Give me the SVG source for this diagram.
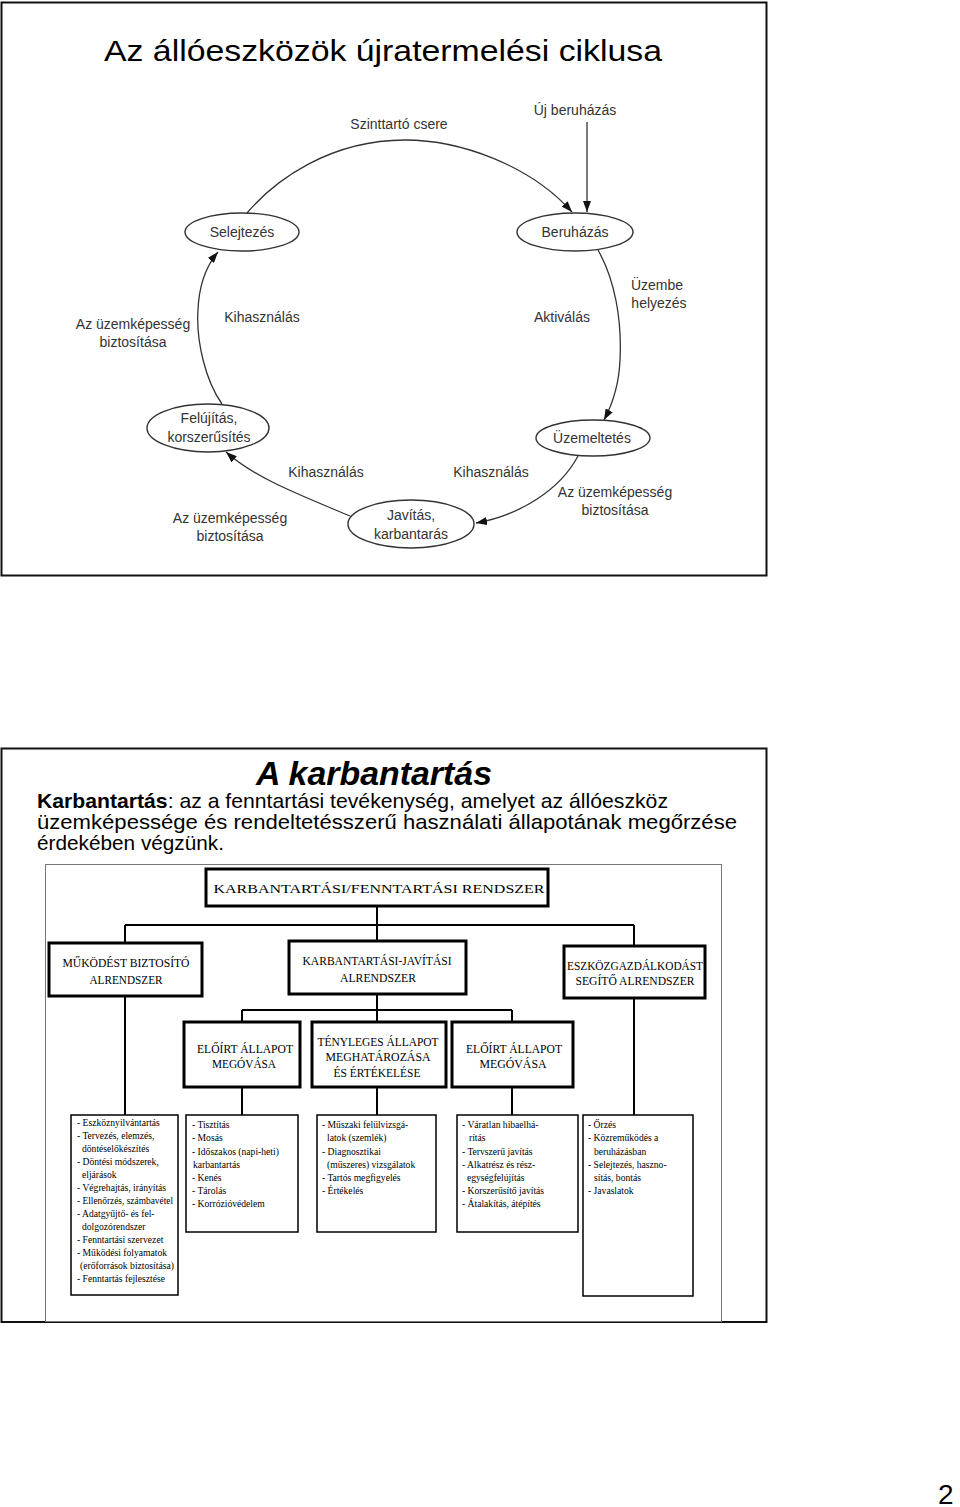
<svg xmlns="http://www.w3.org/2000/svg" width="960" height="1507" viewBox="0 0 960 1507">
<style>
.frame{fill:none;stroke:#111;stroke-width:2}
.lbl{font-family:"Liberation Sans",Arial,sans-serif;font-size:14px;fill:#333;text-anchor:middle}
.ell{fill:#fff;stroke:#333;stroke-width:1.4}
.arc{fill:none;stroke:#333;stroke-width:1.3}
.box{fill:#fff;stroke:#000;stroke-width:3}
.box4{fill:#fff;stroke:#000;stroke-width:1.5}
.cap{font-family:"Liberation Serif","Times New Roman",serif;font-size:13px;fill:#000;text-anchor:middle}
.lst{font-family:"Liberation Serif","Times New Roman",serif;font-size:9.6px;fill:#000}
.wire{fill:none;stroke:#000;stroke-width:2}
.body{font-family:"Liberation Sans",Arial,sans-serif;font-size:21px;fill:#000}
</style>
<defs>
<marker id="ah" markerUnits="userSpaceOnUse" markerWidth="11" markerHeight="8" refX="11" refY="4" orient="auto">
<path d="M0,0 L11,4 L0,8 z" fill="#111"/>
</marker>
</defs>
<rect width="960" height="1507" fill="#fff"/>

<!-- Slide 1 -->
<rect class="frame" x="1.5" y="2.5" width="765" height="573"/>
<text x="104" y="61" font-family="'Liberation Sans',Arial,sans-serif" font-size="30" fill="#000" textLength="558" lengthAdjust="spacingAndGlyphs">Az állóeszközök újratermelési ciklusa</text>

<g id="cycle-connectors">
<path class="arc" d="M247,213 C275,180 330,140 405,140 C460,140 530,165 572,212" marker-end="url(#ah)"/>
<path class="arc" d="M587,122 V212" marker-end="url(#ah)"/>
<path class="arc" d="M598,250 C615,280 622,320 620,360 C619,385 612,405 604,420" marker-end="url(#ah)"/>
<path class="arc" d="M578,456 C560,490 520,515 476,523" marker-end="url(#ah)"/>
<path class="arc" d="M350,516 C300,495 255,478 226,452" marker-end="url(#ah)"/>
<path class="arc" d="M222,404 C205,380 196,340 198,310 C199,285 207,265 218,252" marker-end="url(#ah)"/>
</g>

<g id="n-selejtezes"><ellipse class="ell" cx="242" cy="232" rx="57" ry="19"/><text class="lbl" x="242" y="237">Selejtezés</text></g>
<g id="n-beruhazas"><ellipse class="ell" cx="575" cy="232" rx="58" ry="19"/><text class="lbl" x="575" y="237">Beruházás</text></g>
<g id="n-felujitas"><ellipse class="ell" cx="208" cy="428" rx="61" ry="24"/><text class="lbl" x="209" y="423">Felújítás,</text><text class="lbl" x="209" y="442">korszerűsítés</text></g>
<g id="n-uzemeltetes"><ellipse class="ell" cx="593" cy="438" rx="57" ry="18"/><text class="lbl" x="592" y="443">Üzemeltetés</text></g>
<g id="n-javitas"><ellipse class="ell" cx="411" cy="524" rx="63" ry="24"/><text class="lbl" x="411" y="520">Javítás,</text><text class="lbl" x="411" y="539">karbantarás</text></g>

<g id="cycle-labels">
<text class="lbl" x="399" y="129">Szinttartó csere</text>
<text class="lbl" x="575" y="115">Új beruházás</text>
<text class="lbl" x="133" y="329">Az üzemképesség</text>
<text class="lbl" x="133" y="347">biztosítása</text>
<text class="lbl" x="262" y="322">Kihasználás</text>
<text class="lbl" x="562" y="322">Aktiválás</text>
<text class="lbl" x="657" y="290">Üzembe</text>
<text class="lbl" x="659" y="308">helyezés</text>
<text class="lbl" x="326" y="477">Kihasználás</text>
<text class="lbl" x="491" y="477">Kihasználás</text>
<text class="lbl" x="615" y="497">Az üzemképesség</text>
<text class="lbl" x="615" y="515">biztosítása</text>
<text class="lbl" x="230" y="523">Az üzemképesség</text>
<text class="lbl" x="230" y="541">biztosítása</text>
</g>

<!-- Slide 2 -->
<rect class="frame" x="1.5" y="748.5" width="765" height="573.5"/>
<text x="374" y="785" font-family="'Liberation Sans',Arial,sans-serif" font-size="33" font-weight="bold" font-style="italic" text-anchor="middle" fill="#000" textLength="236" lengthAdjust="spacingAndGlyphs">A karbantartás</text>
<text class="body" x="37" y="808" textLength="631" lengthAdjust="spacingAndGlyphs"><tspan font-weight="bold">Karbantartás</tspan>: az a fenntartási tevékenység, amelyet az állóeszköz</text>
<text class="body" x="37" y="829" textLength="700" lengthAdjust="spacingAndGlyphs">üzemképessége és rendeltetésszerű használati állapotának megőrzése</text>
<text class="body" x="37" y="850" textLength="187" lengthAdjust="spacingAndGlyphs">érdekében végzünk.</text>

<rect x="45.5" y="864.5" width="676" height="457" fill="#fff" stroke="#777" stroke-width="1"/>

<g id="chart-connectors">
<path class="wire" d="M377,906 V941"/>
<path class="wire" d="M125,925 H634"/>
<path class="wire" d="M125,925 V943"/>
<path class="wire" d="M634,925 V946"/>
<path class="wire" d="M125,997 V1115"/>
<path class="wire" d="M634,998 V1115"/>
<path class="wire" d="M377,994 V1022"/>
<path class="wire" d="M242,1010 H512"/>
<path class="wire" d="M242,1010 V1022"/>
<path class="wire" d="M512,1010 V1022"/>
<path class="wire" d="M242,1087 V1115"/>
<path class="wire" d="M377,1087 V1115"/>
<path class="wire" d="M512,1087 V1115"/>
</g>

<g id="c-root"><rect class="box" x="206" y="869" width="342" height="37"/><text class="cap" x="379" y="893" font-size="17" textLength="331" lengthAdjust="spacingAndGlyphs">KARBANTARTÁSI/FENNTARTÁSI RENDSZER</text></g>
<g id="c-mukodes"><rect class="box" x="49" y="943" width="153" height="53"/><text class="cap" x="126" y="967" textLength="127" lengthAdjust="spacingAndGlyphs">MŰKÖDÉST BIZTOSÍTÓ</text><text class="cap" x="126" y="984" textLength="73" lengthAdjust="spacingAndGlyphs">ALRENDSZER</text></g>
<g id="c-karb"><rect class="box" x="289" y="941" width="177" height="53"/><text class="cap" x="377" y="965" textLength="149" lengthAdjust="spacingAndGlyphs">KARBANTARTÁSI-JAVÍTÁSI</text><text class="cap" x="378" y="982" textLength="76" lengthAdjust="spacingAndGlyphs">ALRENDSZER</text></g>
<g id="c-eszkoz"><rect class="box" x="564" y="946" width="141" height="52"/><text class="cap" x="635" y="970" textLength="136" lengthAdjust="spacingAndGlyphs">ESZKÖZGAZDÁLKODÁST</text><text class="cap" x="635" y="985" textLength="119" lengthAdjust="spacingAndGlyphs">SEGÍTŐ ALRENDSZER</text></g>

<g id="c-eloirt1"><rect class="box" x="184" y="1022" width="116" height="65"/><text class="cap" x="245" y="1053" textLength="96" lengthAdjust="spacingAndGlyphs">ELŐÍRT ÁLLAPOT</text><text class="cap" x="244" y="1068" textLength="64" lengthAdjust="spacingAndGlyphs">MEGÓVÁSA</text></g>
<g id="c-tenyleges"><rect class="box" x="312" y="1022" width="134" height="65"/><text class="cap" x="378" y="1046" textLength="121" lengthAdjust="spacingAndGlyphs">TÉNYLEGES ÁLLAPOT</text><text class="cap" x="378" y="1061" textLength="105" lengthAdjust="spacingAndGlyphs">MEGHATÁROZÁSA</text><text class="cap" x="377" y="1077" textLength="87" lengthAdjust="spacingAndGlyphs">ÉS ÉRTÉKELÉSE</text></g>
<g id="c-eloirt2"><rect class="box" x="452" y="1022" width="121" height="65"/><text class="cap" x="514" y="1053" textLength="96" lengthAdjust="spacingAndGlyphs">ELŐÍRT ÁLLAPOT</text><text class="cap" x="513" y="1068" textLength="67" lengthAdjust="spacingAndGlyphs">MEGÓVÁSA</text></g>

<g id="c-list1"><rect class="box4" x="71" y="1115" width="107" height="180"/>
<text class="lst" x="77" y="1126">- Eszköznyilvántartás</text>
<text class="lst" x="77" y="1139">- Tervezés, elemzés,</text>
<text class="lst" x="82" y="1152">döntéselőkészítés</text>
<text class="lst" x="77" y="1165">- Döntési módszerek,</text>
<text class="lst" x="82" y="1178">eljárások</text>
<text class="lst" x="77" y="1191">- Végrehajtás, irányítás</text>
<text class="lst" x="77" y="1204" textLength="96" lengthAdjust="spacingAndGlyphs">- Ellenőrzés, számbavétel</text>
<text class="lst" x="77" y="1217">- Adatgyűjtő- és fel-</text>
<text class="lst" x="82" y="1230">dolgozórendszer</text>
<text class="lst" x="77" y="1243">- Fenntartási szervezet</text>
<text class="lst" x="77" y="1256">- Működési folyamatok</text>
<text class="lst" x="80" y="1269" textLength="94" lengthAdjust="spacingAndGlyphs">(erőforrások biztosítása)</text>
<text class="lst" x="77" y="1282">- Fenntartás fejlesztése</text>
</g>
<g id="c-list2"><rect class="box4" x="186" y="1115" width="112" height="117"/>
<text class="lst" x="192" y="1128">- Tisztítás</text>
<text class="lst" x="192" y="1141">- Mosás</text>
<text class="lst" x="192" y="1155">- Időszakos (napi-heti)</text>
<text class="lst" x="193" y="1168">karbantartás</text>
<text class="lst" x="192" y="1181">- Kenés</text>
<text class="lst" x="192" y="1194">- Tárolás</text>
<text class="lst" x="192" y="1207">- Korrózióvédelem</text>
</g>
<g id="c-list3"><rect class="box4" x="317" y="1115" width="119" height="117"/>
<text class="lst" x="322" y="1128">- Műszaki felülvizsgá-</text>
<text class="lst" x="327" y="1141">latok (szemlék)</text>
<text class="lst" x="322" y="1155">- Diagnosztikai</text>
<text class="lst" x="327" y="1168">(műszeres) vizsgálatok</text>
<text class="lst" x="322" y="1181">- Tartós megfigyelés</text>
<text class="lst" x="322" y="1194">- Értékelés</text>
</g>
<g id="c-list4"><rect class="box4" x="457" y="1115" width="121" height="117"/>
<text class="lst" x="462" y="1128">- Váratlan hibaelhá-</text>
<text class="lst" x="469" y="1141">rítás</text>
<text class="lst" x="462" y="1155">- Tervszerű javítás</text>
<text class="lst" x="462" y="1168">- Alkatrész és rész-</text>
<text class="lst" x="467" y="1181">egységfelújítás</text>
<text class="lst" x="462" y="1194">- Korszerűsítő javítás</text>
<text class="lst" x="462" y="1207">- Átalakítás, átépítés</text>
</g>
<g id="c-list5"><rect class="box4" x="583" y="1115" width="110" height="181"/>
<text class="lst" x="588" y="1128">- Őrzés</text>
<text class="lst" x="588" y="1141">- Közreműködés a</text>
<text class="lst" x="594" y="1155">beruházásban</text>
<text class="lst" x="588" y="1168">- Selejtezés, haszno-</text>
<text class="lst" x="594" y="1181">sítás, bontás</text>
<text class="lst" x="588" y="1194">- Javaslatok</text>
</g>

<text x="938" y="1504" font-family="'Liberation Sans',Arial,sans-serif" font-size="28" fill="#000">2</text>
</svg>
